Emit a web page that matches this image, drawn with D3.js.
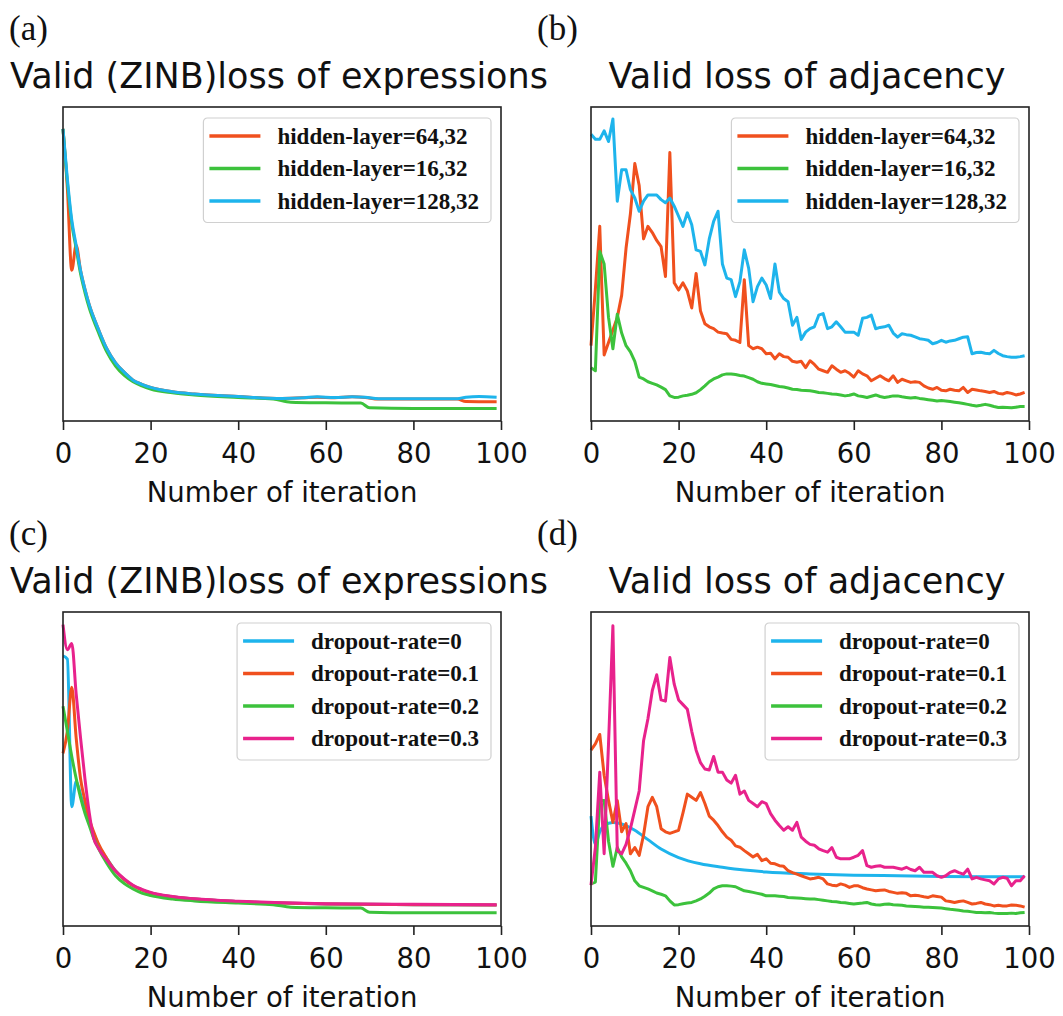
<!DOCTYPE html>
<html>
<head>
<meta charset="utf-8">
<script src="https://cdn.jsdelivr.net/npm/d3@7"></script>
<style>
  body { margin: 0; background: #fff; }
  svg { display: block; }
</style>
</head>
<body>
<svg id="fig" width="1063" height="1016"></svg>
<script>
// relative loss values (fraction of the axis height)
const xTicks = [0, 20, 40, 60, 80, 100]
const hiddenNames = ["hidden-layer=64,32", "hidden-layer=16,32", "hidden-layer=128,32"]
const dropoutNames = ["dropout-rate=0", "dropout-rate=0.1", "dropout-rate=0.2", "dropout-rate=0.3"]

// (a) smooth curves, given as [iteration, value] key points
const aHidden64 = [[0,.93],[1,.74],[2,.48],[3,.56],[4,.48],[5,.42],[6,.37],[7,.33],[8,.295],[10,.23],[12,.185],[14,.155],[16,.13],[18,.117],[20,.107],[25,.093],[30,.086],[40,.078],[50,.072],[55,.074],[58,.076],[62,.074],[66,.077],[69,.075],[72,.07],[80,.07],[90,.07],[92,.062],[99,.061]]
const aHidden16 = [[0,.93],[1,.76],[2,.63],[3,.55],[4,.47],[5,.41],[6,.36],[7,.32],[8,.285],[10,.22],[12,.175],[14,.145],[16,.125],[18,.112],[20,.102],[25,.09],[30,.083],[40,.075],[48,.07],[52,.06],[60,.058],[68,.057],[70,.042],[80,.04],[99,.04]]
const aHidden128 = [[0,.93],[1,.77],[2,.64],[3,.56],[4,.48],[5,.42],[6,.37],[7,.33],[8,.295],[10,.23],[12,.185],[14,.155],[16,.13],[18,.117],[20,.107],[25,.093],[30,.086],[40,.078],[50,.072],[55,.074],[58,.077],[62,.075],[66,.077],[69,.076],[72,.071],[80,.071],[90,.071],[92,.076],[95,.078],[99,.076]]

// (b) one value per iteration 0..99
const bHidden64 = [.24,.42,.62,.21,.25,.29,.33,.40,.55,.66,.82,.75,.58,.62,.60,.575,.555,.46,.855,.44,
  .417,.44,.414,.36,.47,.35,.31,.30,.294,.283,.28,.278,.26,.257,.25,.45,.24,.23,.235,.23,
  .214,.216,.198,.214,.205,.203,.19,.187,.19,.17,.192,.18,.165,.16,.155,.176,.165,.155,.16,.152,
  .14,.16,.15,.144,.128,.136,.144,.135,.128,.144,.123,.133,.128,.123,.125,.123,.112,.105,.101,.107,
  .098,.096,.101,.098,.096,.107,.091,.101,.099,.096,.094,.091,.094,.088,.086,.091,.088,.083,.086,.091]
const bHidden16 = [.17,.16,.54,.50,.33,.23,.34,.28,.24,.22,.19,.14,.134,.125,.12,.115,.108,.10,.08,.075,
  .076,.08,.082,.085,.09,.10,.112,.125,.134,.14,.147,.15,.15,.148,.145,.143,.138,.133,.125,.12,
  .118,.116,.113,.11,.108,.105,.101,.10,.098,.097,.096,.094,.091,.09,.088,.086,.085,.083,.08,.082,
  .086,.08,.078,.075,.079,.083,.078,.075,.077,.08,.08,.077,.075,.073,.075,.072,.07,.068,.066,.064,
  .065,.064,.062,.06,.058,.056,.053,.05,.048,.05,.053,.05,.046,.043,.044,.043,.042,.044,.046,.046]
const bHidden128 = [.913,.897,.897,.924,.89,.962,.70,.80,.80,.737,.71,.668,.70,.72,.72,.72,.705,.695,.71,.684,
  .652,.62,.663,.625,.545,.54,.497,.58,.636,.668,.50,.455,.45,.396,.444,.545,.486,.38,.428,.455,
  .433,.39,.50,.41,.39,.38,.305,.33,.26,.283,.294,.30,.337,.342,.294,.30,.316,.30,.283,.283,
  .283,.273,.327,.33,.337,.294,.298,.30,.305,.28,.267,.278,.275,.273,.268,.262,.26,.257,.246,.25,
  .257,.251,.255,.257,.262,.267,.268,.214,.218,.219,.216,.214,.225,.215,.208,.205,.203,.203,.205,.208]

// (c) smooth curves, [iteration, value] key points
const cDrop0 = [[0,.86],[1,.85],[2,.38],[3,.46],[4,.42],[5,.37],[6,.33],[7,.295],[8,.26],[10,.215],[12,.175],[14,.148],[16,.128],[18,.115],[20,.105],[25,.093],[30,.086],[40,.078],[50,.073],[60,.07],[80,.068],[99,.067]]
const cDrop01 = [[0,.55],[1,.62],[2,.76],[3,.60],[4,.47],[5,.40],[6,.34],[7,.30],[8,.265],[10,.215],[12,.175],[14,.148],[16,.128],[18,.115],[20,.105],[25,.093],[30,.086],[40,.078],[50,.073],[60,.07],[80,.068],[99,.067]]
const cDrop02 = [[0,.70],[1,.62],[2,.54],[3,.47],[4,.41],[5,.36],[6,.32],[7,.28],[8,.25],[10,.20],[12,.16],[14,.135],[16,.118],[18,.105],[20,.097],[25,.086],[30,.08],[40,.073],[48,.068],[52,.06],[60,.058],[68,.057],[70,.044],[80,.042],[99,.042]]
const cDrop03 = [[0,.96],[1,.88],[2,.90],[3,.74],[4,.60],[5,.47],[6,.36],[7,.28],[8,.25],[10,.21],[12,.175],[14,.15],[16,.13],[18,.117],[20,.107],[25,.094],[30,.087],[40,.079],[50,.074],[60,.071],[80,.069],[99,.068]]

// (d) dropout-rate=0 is smooth (key points), the others one value per iteration
const dDrop0 = [[0,.35],[1,.26],[2,.30],[3,.32],[5,.33],[8,.32],[10,.305],[13,.275],[16,.245],[20,.218],[25,.198],[30,.187],[35,.178],[40,.172],[50,.166],[60,.162],[70,.16],[80,.158],[90,.157],[99,.157]]
const dDrop01 = [.56,.58,.61,.48,.40,.33,.40,.30,.326,.23,.25,.225,.29,.38,.41,.38,.31,.30,.295,.30,
  .305,.36,.42,.41,.40,.425,.39,.35,.337,.32,.30,.283,.273,.255,.251,.24,.23,.22,.228,.208,
  .214,.20,.198,.192,.19,.176,.17,.165,.16,.155,.15,.152,.155,.15,.134,.13,.128,.134,.13,.123,
  .128,.128,.122,.118,.115,.112,.114,.115,.11,.107,.104,.106,.104,.096,.098,.096,.093,.091,.096,.094,
  .092,.08,.078,.075,.078,.08,.075,.07,.072,.075,.07,.068,.064,.066,.064,.064,.067,.066,.064,.06]
const dDrop02 = [.134,.14,.40,.40,.27,.19,.25,.22,.20,.176,.144,.128,.123,.118,.112,.105,.101,.096,.08,.067,
  .068,.071,.073,.075,.08,.086,.095,.105,.118,.125,.128,.128,.127,.125,.118,.112,.11,.107,.104,.101,
  .096,.096,.096,.095,.094,.091,.09,.089,.088,.087,.086,.086,.084,.082,.08,.078,.077,.075,.074,.072,
  .07,.072,.073,.075,.07,.068,.067,.069,.07,.068,.067,.066,.064,.063,.062,.061,.06,.06,.059,.058,
  .057,.055,.053,.052,.05,.048,.047,.045,.043,.043,.042,.043,.041,.04,.04,.04,.041,.04,.042,.043]
const dDrop03 = [.13,.25,.49,.23,.58,.956,.24,.23,.26,.31,.37,.43,.59,.66,.75,.80,.72,.716,.855,.77,
  .72,.705,.69,.62,.56,.52,.50,.497,.54,.49,.49,.465,.455,.48,.42,.43,.40,.39,.38,.396,
  .39,.358,.337,.32,.305,.316,.305,.33,.283,.27,.26,.257,.246,.24,.235,.25,.219,.214,.214,.214,
  .219,.225,.24,.192,.187,.19,.192,.187,.187,.187,.184,.181,.187,.18,.176,.187,.171,.171,.171,.16,
  .155,.16,.171,.176,.17,.165,.181,.15,.155,.15,.147,.144,.134,.15,.155,.152,.128,.144,.144,.16]

const ORANGE = "#f0501e", GREEN = "#3cc23c", BLUE = "#1eb4ec", PINK = "#e8228c"

const perIter = vals => vals.map((v, i) => [i, v])

const panels = [
  { tag: "(a)", left: 63, top: 107, title: "Valid (ZINB)loss of expressions", smooth: true,
    series: [[hiddenNames[0], aHidden64, ORANGE], [hiddenNames[1], aHidden16, GREEN], [hiddenNames[2], aHidden128, BLUE]] },
  { tag: "(b)", left: 591, top: 107, title: "Valid loss of adjacency", smooth: false,
    series: [[hiddenNames[0], perIter(bHidden64), ORANGE], [hiddenNames[1], perIter(bHidden16), GREEN], [hiddenNames[2], perIter(bHidden128), BLUE]] },
  { tag: "(c)", left: 63, top: 612, title: "Valid (ZINB)loss of expressions", smooth: true,
    series: [[dropoutNames[0], cDrop0, BLUE], [dropoutNames[1], cDrop01, ORANGE], [dropoutNames[2], cDrop02, GREEN], [dropoutNames[3], cDrop03, PINK]] },
  { tag: "(d)", left: 591, top: 612, title: "Valid loss of adjacency", smooth: false,
    series: [[dropoutNames[0], dDrop0, BLUE, true], [dropoutNames[1], perIter(dDrop01), ORANGE], [dropoutNames[2], perIter(dDrop02), GREEN], [dropoutNames[3], perIter(dDrop03), PINK]] }
]

const W = 438, H = 314
const svg = d3.select("#fig")

panels.forEach(p => {
  let g = svg.append("g").attr("transform", `translate(${p.left},${p.top})`)
  let x = d3.scaleLinear().domain([0, 100]).range([0, W])
  let y = d3.scaleLinear().domain([0, 1]).range([H, 0])

  // panel tag and title
  g.append("text").attr("x", -54).attr("y", -67)
    .attr("font-family", "'Liberation Serif', 'Times New Roman', serif").attr("font-size", 35)
    .attr("fill", "#111").text(p.tag)
  g.append("text").attr("x", W / 2 - 3).attr("y", -19).attr("text-anchor", "middle")
    .attr("font-family", "'DejaVu Sans', sans-serif").attr("font-size", 35).attr("fill", "#111")
    .text(p.title)

  // curves
  p.series.forEach(s => {
    let line = d3.line().x(d => x(d[0])).y(d => y(d[1]))
      .curve(p.smooth || s[3] ? d3.curveMonotoneX : d3.curveLinear)
    g.append("path").datum(s[1]).attr("d", line)
      .attr("fill", "none").attr("stroke", s[2]).attr("stroke-width", 3)
      .attr("stroke-linejoin", "round")
  })

  // frame and bottom axis
  g.append("rect").attr("width", W).attr("height", H)
    .attr("fill", "none").attr("stroke", "#222").attr("stroke-width", 1.6)
  let ax = g.append("g").attr("transform", `translate(0,${H})`)
    .call(d3.axisBottom(x).tickValues(xTicks).tickSize(9).tickPadding(13).tickFormat(d3.format("d")))
  ax.select(".domain").remove()
  ax.selectAll("line").attr("stroke", "#222").attr("stroke-width", 1.6)
  ax.selectAll("text").attr("font-family", "'DejaVu Sans', sans-serif").attr("font-size", 27.5).attr("fill", "#111")
  g.append("text").attr("x", W / 2).attr("y", H + 81).attr("text-anchor", "middle")
    .attr("font-family", "'DejaVu Sans', sans-serif").attr("font-size", 27.5).attr("fill", "#111")
    .text("Number of iteration")

  // legend
  let leg = g.append("g")
  let box = leg.append("rect").attr("rx", 4).attr("fill", "#fff").attr("fill-opacity", 0.85)
    .attr("stroke", "#d0d0d0").attr("stroke-width", 1.2)
  let maxW = 0
  p.series.forEach((s, i) => {
    let cy = 18 + i * 32.5
    leg.append("line").attr("x1", 6).attr("x2", 57).attr("y1", cy).attr("y2", cy)
      .attr("stroke", s[2]).attr("stroke-width", 3.3)
    let t = leg.append("text").attr("x", 74).attr("y", cy + 7.5)
      .attr("font-family", "'Liberation Serif', 'Times New Roman', serif").attr("font-weight", "bold")
      .attr("font-size", 23).attr("fill", "#111").text(s[0])
    maxW = Math.max(maxW, t.node().getComputedTextLength())
  })
  let bw = 74 + maxW + 12, bh = p.series.length * 32.5 + 7
  box.attr("width", bw).attr("height", bh)
  leg.attr("transform", `translate(${W - 10 - bw},11)`)
})
</script>
</body>
</html>
